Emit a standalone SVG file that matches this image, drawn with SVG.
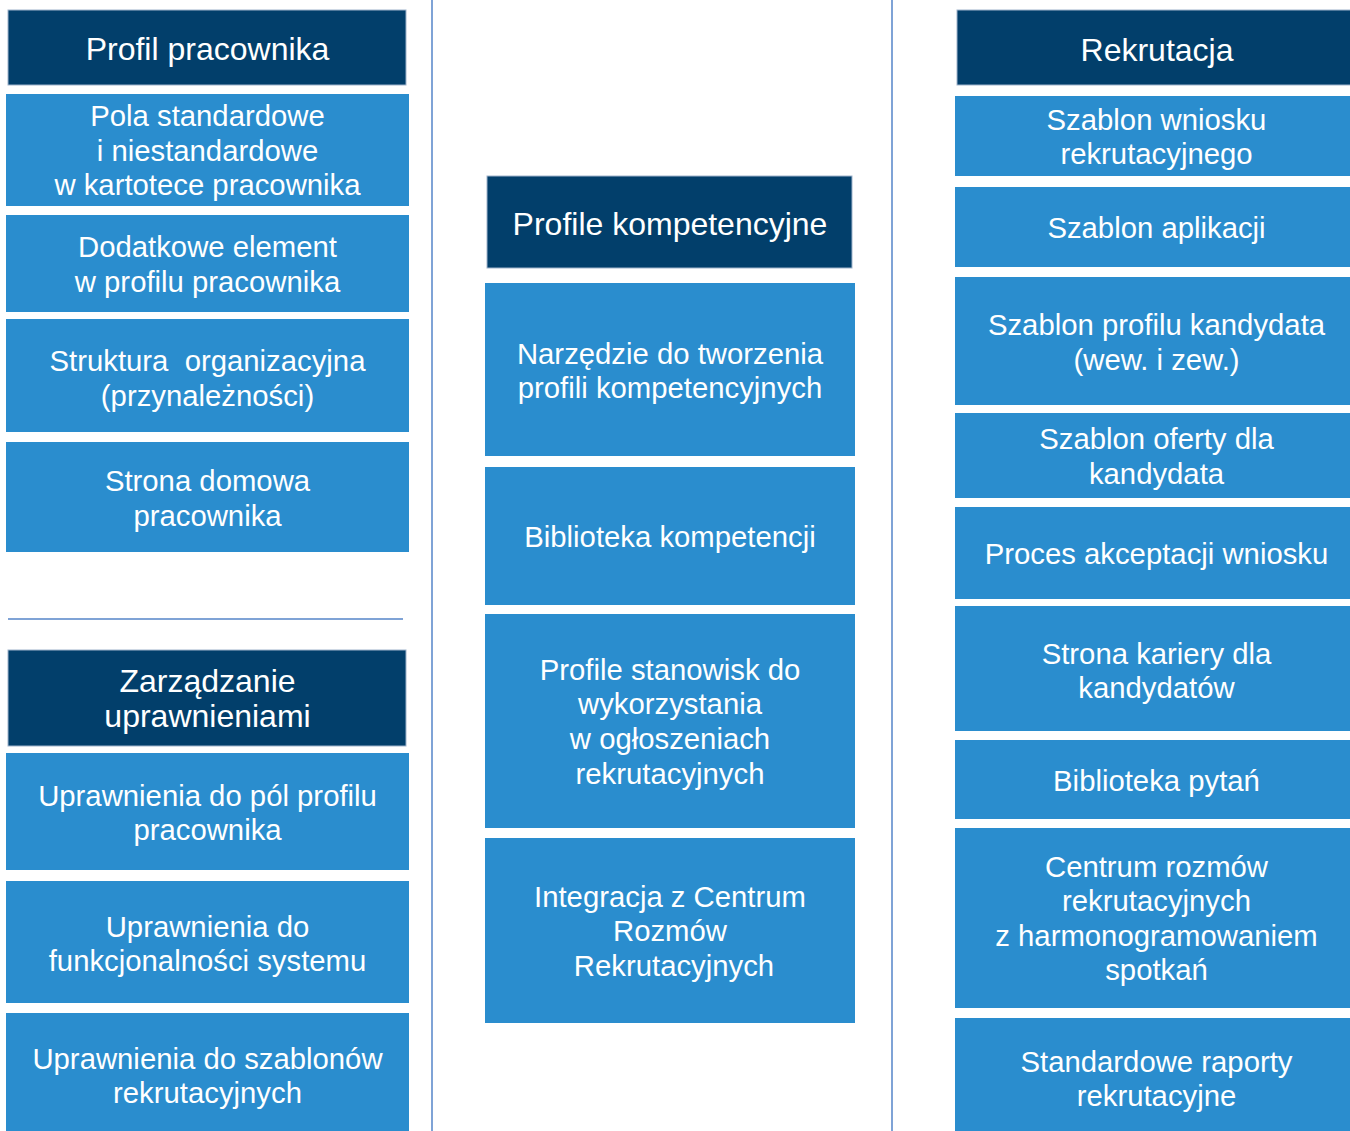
<svg xmlns="http://www.w3.org/2000/svg" width="1350" height="1131" viewBox="0 0 1350 1131">
<style>
.hd{fill:#023F6B;stroke:#9FB4CC;stroke-width:1}
.bx{fill:#2A8DCE}
.ht{font-family:"Liberation Sans",Arial,sans-serif;font-size:32px;fill:#FFFFFF;text-anchor:middle}
.bt{font-family:"Liberation Sans",Arial,sans-serif;font-size:29.3px;fill:#FFFFFF;text-anchor:middle;white-space:pre}
.sep{stroke:#7FA3D6;stroke-width:2;fill:none}
</style>
<rect width="1350" height="1131" fill="#FFFFFF"/>
<g id="connectors">
<line class="sep" x1="432" y1="0" x2="432" y2="1131"/>
<line class="sep" x1="892" y1="0" x2="892" y2="1131"/>
<line class="sep" x1="8" y1="619" x2="403" y2="619"/>
</g>
<g id="profil-pracownika">
<rect class="hd" x="8" y="10" width="398" height="75"/>
<text class="ht" x="207.5" y="60">Profil pracownika</text>
</g>
<g id="pola">
<rect class="bx" x="6" y="94" width="403" height="112"/>
<text class="bt" x="207.5" y="126">Pola standardowe</text>
<text class="bt" x="207.5" y="160.5">i niestandardowe</text>
<text class="bt" x="207.5" y="195">w kartotece pracownika</text>
</g>
<g id="dodatkowe">
<rect class="bx" x="6" y="215" width="403" height="97"/>
<text class="bt" x="207.5" y="257">Dodatkowe element</text>
<text class="bt" x="207.5" y="291.5">w profilu pracownika</text>
</g>
<g id="struktura">
<rect class="bx" x="6" y="319" width="403" height="113"/>
<text class="bt" x="207.5" y="371" xml:space="preserve">Struktura  organizacyjna</text>
<text class="bt" x="207.5" y="405.5">(przynależności)</text>
</g>
<g id="strona-domowa">
<rect class="bx" x="6" y="442" width="403" height="110"/>
<text class="bt" x="207.5" y="491">Strona domowa</text>
<text class="bt" x="207.5" y="526">pracownika</text>
</g>
<g id="zarzadzanie">
<rect class="hd" x="8" y="650" width="398" height="96"/>
<text class="ht" x="207.5" y="692">Zarządzanie</text>
<text class="ht" x="207.5" y="727">uprawnieniami</text>
</g>
<g id="upr-pol">
<rect class="bx" x="6" y="753" width="403" height="117"/>
<text class="bt" x="207.5" y="806">Uprawnienia do pól profilu</text>
<text class="bt" x="207.5" y="840">pracownika</text>
</g>
<g id="upr-funkcj">
<rect class="bx" x="6" y="881" width="403" height="122"/>
<text class="bt" x="207.5" y="937">Uprawnienia do</text>
<text class="bt" x="207.5" y="971">funkcjonalności systemu</text>
</g>
<g id="upr-szablonow">
<rect class="bx" x="6" y="1013" width="403" height="130"/>
<text class="bt" x="207.5" y="1068.5">Uprawnienia do szablonów</text>
<text class="bt" x="207.5" y="1102.5">rekrutacyjnych</text>
</g>
<g id="profile-kompetencyjne">
<rect class="hd" x="487" y="176" width="365" height="92"/>
<text class="ht" x="670" y="235">Profile kompetencyjne</text>
</g>
<g id="narzedzie">
<rect class="bx" x="485" y="283" width="370" height="173"/>
<text class="bt" x="670" y="363.5">Narzędzie do tworzenia</text>
<text class="bt" x="670" y="398">profili kompetencyjnych</text>
</g>
<g id="biblioteka-kompetencji">
<rect class="bx" x="485" y="467" width="370" height="138"/>
<text class="bt" x="670" y="547">Biblioteka kompetencji</text>
</g>
<g id="profile-stanowisk">
<rect class="bx" x="485" y="614" width="370" height="214"/>
<text class="bt" x="670" y="679.5">Profile stanowisk do</text>
<text class="bt" x="670" y="714">wykorzystania</text>
<text class="bt" x="670" y="749">w ogłoszeniach</text>
<text class="bt" x="670" y="783.5">rekrutacyjnych</text>
</g>
<g id="integracja">
<rect class="bx" x="485" y="838" width="370" height="185"/>
<text class="bt" x="670" y="907">Integracja z Centrum</text>
<text class="bt" x="670" y="941">Rozmów</text>
<text class="bt" x="674" y="976">Rekrutacyjnych</text>
</g>
<g id="rekrutacja">
<rect class="hd" x="957" y="10" width="398" height="75"/>
<text class="ht" x="1157" y="61">Rekrutacja</text>
</g>
<g id="szablon-wniosku">
<rect class="bx" x="955" y="96" width="403" height="80"/>
<text class="bt" x="1156.5" y="129.5">Szablon wniosku</text>
<text class="bt" x="1156.5" y="164">rekrutacyjnego</text>
</g>
<g id="szablon-aplikacji">
<rect class="bx" x="955" y="187" width="403" height="80"/>
<text class="bt" x="1156.5" y="238">Szablon aplikacji</text>
</g>
<g id="szablon-profilu">
<rect class="bx" x="955" y="277" width="403" height="128"/>
<text class="bt" x="1156.5" y="335">Szablon profilu kandydata</text>
<text class="bt" x="1156.5" y="370">(wew. i zew.)</text>
</g>
<g id="szablon-oferty">
<rect class="bx" x="955" y="413" width="403" height="85"/>
<text class="bt" x="1156.5" y="449">Szablon oferty dla</text>
<text class="bt" x="1156.5" y="483.5">kandydata</text>
</g>
<g id="proces-akceptacji">
<rect class="bx" x="955" y="507" width="403" height="92"/>
<text class="bt" x="1156.5" y="563.5">Proces akceptacji wniosku</text>
</g>
<g id="strona-kariery">
<rect class="bx" x="955" y="606" width="403" height="125"/>
<text class="bt" x="1156.5" y="663.5">Strona kariery dla</text>
<text class="bt" x="1156.5" y="698">kandydatów</text>
</g>
<g id="biblioteka-pytan">
<rect class="bx" x="955" y="740" width="403" height="79"/>
<text class="bt" x="1156.5" y="791">Biblioteka pytań</text>
</g>
<g id="centrum-rozmow">
<rect class="bx" x="955" y="828" width="403" height="180"/>
<text class="bt" x="1156.5" y="877">Centrum rozmów</text>
<text class="bt" x="1156.5" y="911">rekrutacyjnych</text>
<text class="bt" x="1156.5" y="946">z harmonogramowaniem</text>
<text class="bt" x="1156.5" y="980">spotkań</text>
</g>
<g id="standardowe-raporty">
<rect class="bx" x="955" y="1018" width="403" height="130"/>
<text class="bt" x="1156.5" y="1072">Standardowe raporty</text>
<text class="bt" x="1156.5" y="1106">rekrutacyjne</text>
</g>
</svg>
